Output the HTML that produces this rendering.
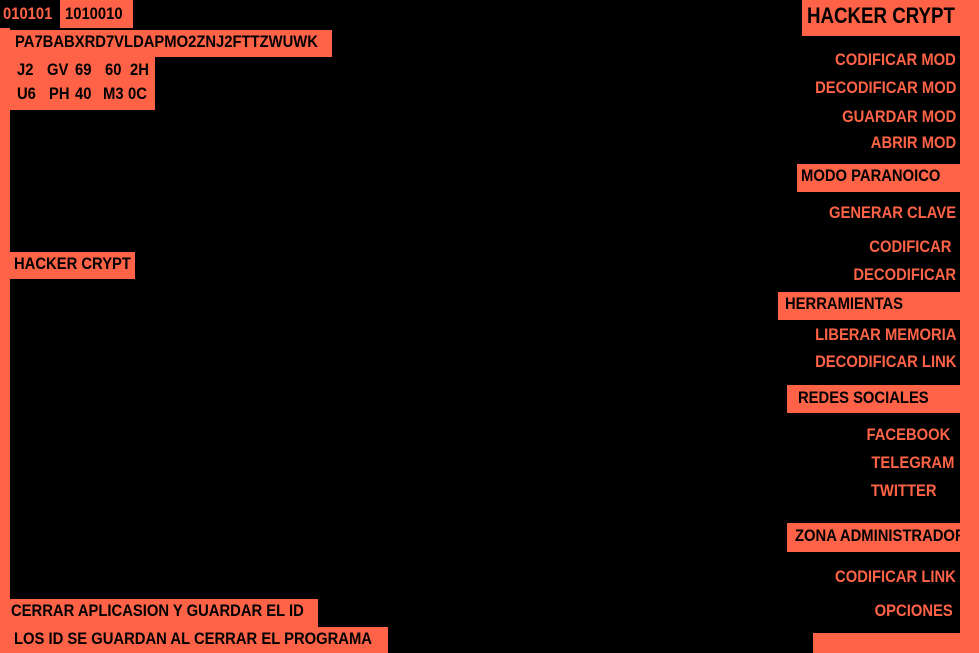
<!DOCTYPE html>
<html><head><meta charset="utf-8"><style>
html,body{margin:0;padding:0;background:#000;width:979px;height:653px;overflow:hidden;position:relative}
div{position:absolute;box-sizing:border-box}
.o{background:#ff6347}
.t{font-family:"Liberation Sans",sans-serif;font-weight:bold;font-size:17px;line-height:20px;white-space:nowrap;color:#ff6347;transform:scaleX(.87);transform-origin:left center}
.k{color:#000}
.r{text-align:right;transform-origin:right center}
</style></head><body>
<div class="o" style="left:0;top:28px;width:10px;height:625px"></div>
<div class="t" style="left:3px;top:4px">010101</div>
<div class="o" style="left:60px;top:0;width:73px;height:28px"></div>
<div class="t k" style="left:65px;top:4px">1010010</div>
<div class="o" style="left:0;top:30px;width:332px;height:27px"></div>
<div class="t k" style="left:15px;top:32px">PA7BABXRD7VLDAPMO2ZNJ2FTTZWUWK</div>
<div class="o" style="left:0;top:57px;width:155px;height:53px"></div>
<div class="t k" style="left:17px;top:60px">J2</div>
<div class="t k" style="left:47px;top:60px">GV</div>
<div class="t k" style="left:75px;top:60px">69</div>
<div class="t k" style="left:105px;top:60px">60</div>
<div class="t k" style="left:130px;top:60px">2H</div>
<div class="t k" style="left:17px;top:84px">U6</div>
<div class="t k" style="left:49px;top:84px">PH</div>
<div class="t k" style="left:75px;top:84px">40</div>
<div class="t k" style="left:103px;top:84px">M3</div>
<div class="t k" style="left:128px;top:84px">0C</div>
<div class="o" style="left:10px;top:252px;width:125px;height:27px"></div>
<div class="t k" style="left:14px;top:254px">HACKER CRYPT</div>
<div class="o" style="left:10px;top:599px;width:308px;height:28px"></div>
<div class="t k" style="left:11px;top:601px">CERRAR APLICASION Y GUARDAR EL ID</div>
<div class="o" style="left:10px;top:627px;width:378px;height:26px"></div>
<div class="t k" style="left:14px;top:629px">LOS ID SE GUARDAN AL CERRAR EL PROGRAMA</div>
<div class="o" style="left:960px;top:0;width:19px;height:653px"></div>
<div class="o" style="left:802px;top:0;width:177px;height:36px"></div>
<div class="t k" style="left:807px;top:3px;font-size:22px;line-height:26px;transform:scaleX(.85)">HACKER CRYPT</div>
<div class="t r" style="right:23px;top:50px">CODIFICAR MOD</div>
<div class="t r" style="right:23px;top:78px">DECODIFICAR MOD</div>
<div class="t r" style="right:23px;top:107px">GUARDAR MOD</div>
<div class="t r" style="right:23px;top:133px">ABRIR MOD</div>
<div class="o" style="left:797px;top:164px;width:163px;height:28px"></div>
<div class="t k" style="left:801px;top:166px">MODO PARANOICO</div>
<div class="t r" style="right:23px;top:203px">GENERAR CLAVE</div>
<div class="t r" style="right:28px;top:237px">CODIFICAR</div>
<div class="t r" style="right:23px;top:265px">DECODIFICAR</div>
<div class="o" style="left:778px;top:292px;width:182px;height:28px"></div>
<div class="t k" style="left:785px;top:294px">HERRAMIENTAS</div>
<div class="t r" style="right:23px;top:325px">LIBERAR MEMORIA</div>
<div class="t r" style="right:23px;top:352px">DECODIFICAR LINK</div>
<div class="o" style="left:787px;top:385px;width:173px;height:28px"></div>
<div class="t k" style="left:798px;top:388px">REDES SOCIALES</div>
<div class="t r" style="right:29px;top:425px">FACEBOOK</div>
<div class="t r" style="right:25px;top:453px">TELEGRAM</div>
<div class="t r" style="right:42px;top:481px">TWITTER</div>
<div class="o" style="left:787px;top:523px;width:173px;height:29px"></div>
<div class="t k" style="left:795px;top:526px">ZONA ADMINISTRADOR</div>
<div class="o" style="left:960px;top:36px;width:19px;height:617px"></div>
<div class="t r" style="right:23px;top:567px">CODIFICAR LINK</div>
<div class="t r" style="right:26px;top:601px">OPCIONES</div>
<div class="o" style="left:813px;top:633px;width:166px;height:20px"></div>
</body></html>
